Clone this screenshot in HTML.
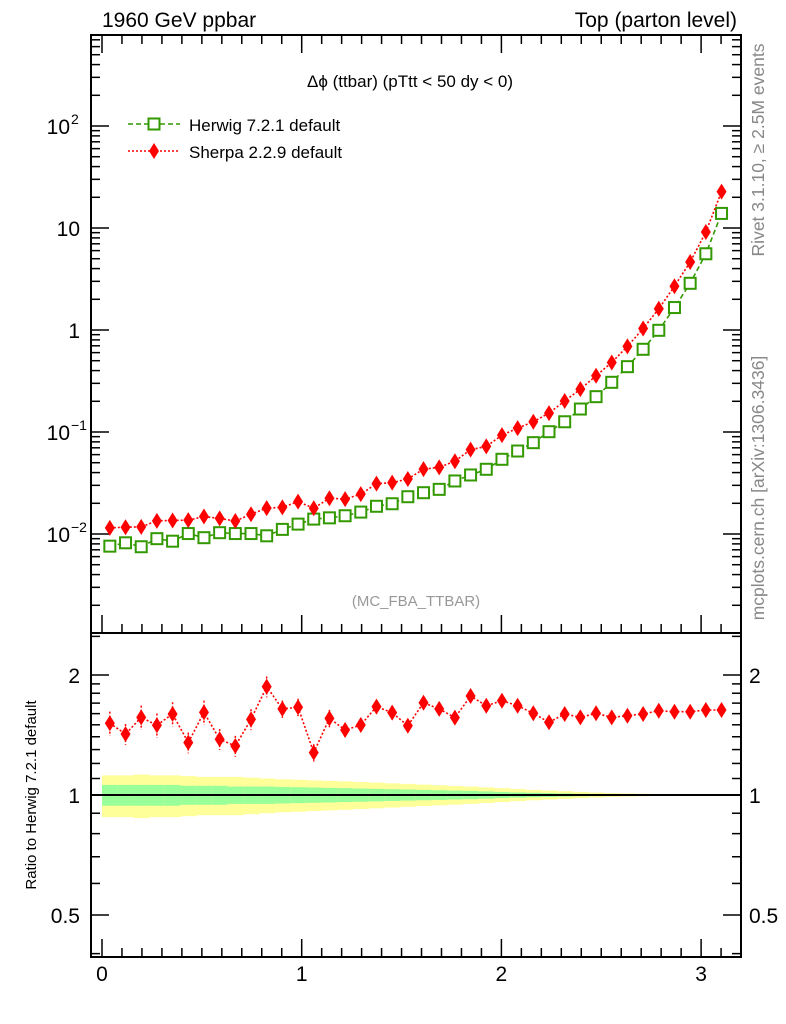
<!DOCTYPE html>
<html><head><meta charset="utf-8"><style>
html,body{margin:0;padding:0;background:#fff;}
svg{display:block;font-family:"Liberation Sans",sans-serif;}
</style></head><body>
<svg id="c" width="786" height="1024" viewBox="0 0 786 1024"></svg>
<script>
const herwig=[0.0076,0.0082,0.0075,0.0090,0.0085,0.0101,0.0092,0.0103,0.0101,0.0101,0.0096,0.0111,0.0125,0.0140,0.0144,0.0151,0.0164,0.0187,0.0198,0.0232,0.0254,0.0274,0.0331,0.0379,0.0431,0.0540,0.0651,0.0786,0.1007,0.126,0.168,0.222,0.307,0.437,0.647,0.993,1.66,2.87,5.59,13.9];
const ratio=[1.513,1.422,1.566,1.496,1.597,1.353,1.612,1.380,1.327,1.548,1.870,1.644,1.660,1.277,1.557,1.456,1.498,1.666,1.609,1.492,1.704,1.644,1.563,1.771,1.675,1.724,1.675,1.603,1.522,1.597,1.566,1.603,1.566,1.581,1.597,1.627,1.618,1.618,1.634,1.634];
const ratioErr=[0.07,0.06,0.07,0.07,0.07,0.06,0.07,0.06,0.06,0.06,0.06,0.05,0.05,0.05,0.05,0.04,0.04,0.04,0.04,0.03,0.03,0.03,0.03,0.03,0.02,0.02,0.02,0.02,0.01,0.01,0.01,0.01,0.01,0.01,0.01,0.01,0.01,0.01,0.01,0.01];
const bandYellow=[0.12,0.12,0.125,0.12,0.12,0.115,0.11,0.11,0.11,0.105,0.10,0.095,0.092,0.088,0.085,0.082,0.078,0.074,0.07,0.066,0.062,0.058,0.054,0.05,0.045,0.04,0.035,0.03,0.026,0.022,0.018,0.014,0.011,0.009,0.007,0.005,0.004,0.003,0.002,0.002];
const bandGreen=[0.06,0.06,0.06,0.06,0.06,0.055,0.055,0.055,0.05,0.05,0.05,0.048,0.046,0.044,0.042,0.04,0.038,0.036,0.034,0.032,0.03,0.028,0.026,0.024,0.021,0.018,0.015,0.013,0.011,0.009,0.007,0.006,0.005,0.004,0.003,0.002,0.002,0.001,0.001,0.001];
const xTicks=[0,1,2,3];
const NB=40, W=Math.PI/NB;
const svg=document.getElementById('c');
const NS='http://www.w3.org/2000/svg';
function el(t,a,p){const e=document.createElementNS(NS,t);for(const k in a)e.setAttribute(k,a[k]);(p||svg).appendChild(e);return e;}
const L=91,R=741,T=35,M=633,B=957;
const X=v=>102+v*199.7;
const Y=v=>534-(Math.log10(v)+2)*102;
const YR=v=>795-Math.log2(v)*120;

const gB=el('g',{});  
for(let i=0;i<NB;i++){
  const x0=X(i*W),x1=X((i+1)*W)+0.5;
  el('rect',{x:x0,y:YR(1+bandYellow[i]),width:x1-x0,height:YR(1-bandYellow[i])-YR(1+bandYellow[i]),fill:'#ffff99'},gB);
  el('rect',{x:x0,y:YR(1+bandGreen[i]),width:x1-x0,height:YR(1-bandGreen[i])-YR(1+bandGreen[i]),fill:'#99ff99'},gB);
}
el('line',{x1:L,x2:R,y1:YR(1),y2:YR(1),stroke:'#000','stroke-width':2});

const f1=el('rect',{x:L,y:T,width:R-L,height:M-T,fill:'none',stroke:'#000','stroke-width':2});
 
const f2=el('rect',{x:L,y:M,width:R-L,height:B-M,fill:'none',stroke:'#000','stroke-width':2});
 

for(let d=-3;d<=2;d++){for(let m=1;m<10;m++){const v=m*Math.pow(10,d);const y=Y(v);if(y<T||y>M)continue;const len=m==1?18:9;
  el('line',{x1:L,x2:L+len,y1:y,y2:y,stroke:'#000','stroke-width':1.5});
  el('line',{x1:R-len,x2:R,y1:y,y2:y,stroke:'#000','stroke-width':1.5});}}
const yl=[[0.01,'10','−2'],[0.1,'10','−1'],[1,'1',''],[10,'10',''],[100,'10','2']];
yl.forEach(a=>{const t=el('text',{x:a[2]?70:80,y:Y(a[0])+8,'font-size':21,'text-anchor':'end'});t.textContent=a[1];
   
  if(a[2]){const s=el('text',{x:71,y:Y(a[0])-2,'font-size':14});s.textContent=a[2];}});
[0.4,0.5,0.6,0.7,0.8,0.9,1,1.1,1.2,1.3,1.4,1.5,1.6,1.7,1.8,1.9,2,2.5].forEach(v=>{const y=YR(v);if(y<M||y>B)return;const len=[0.5,1,2].includes(v)?18:9;
  el('line',{x1:L,x2:L+len,y1:y,y2:y,stroke:'#000','stroke-width':1.5});el('line',{x1:R-len,x2:R,y1:y,y2:y,stroke:'#000','stroke-width':1.5});});
[[2,'2'],[1,'1'],[0.5,'0.5']].forEach(a=>{const t=el('text',{x:80,y:YR(a[0])+8,'font-size':21,'text-anchor':'end'});t.textContent=a[1];
  const t2=el('text',{x:749,y:YR(a[0])+8,'font-size':21});t2.textContent=a[1];});
for(let v=0;v<=3.2;v+=0.1){const x=X(v);if(x<L||x>R)continue;const maj=Math.abs(v-Math.round(v))<1e-6;const len=maj?18:9;
  el('line',{x1:x,x2:x,y1:B-len,y2:B,stroke:'#000','stroke-width':1.5});
  el('line',{x1:x,x2:x,y1:M-len,y2:M,stroke:'#000','stroke-width':1.5});
  el('line',{x1:x,x2:x,y1:T,y2:T+len,stroke:'#000','stroke-width':1.5});}
xTicks.forEach(v=>{const t=el('text',{x:X(v),y:981,'font-size':21,'text-anchor':'middle'});t.textContent=v;
   });

const cx=i=>X((i+0.5)*W);
const gH=el('g',{});  
el('polyline',{points:herwig.map((v,i)=>cx(i)+','+Y(v)).join(' '),fill:'none',stroke:'#339900','stroke-width':1.6,'stroke-dasharray':'5,3'},gH);
herwig.forEach((v,i)=>{el('rect',{x:cx(i)-5.5,y:Y(v)-5.5,width:11,height:11,fill:'#fff',stroke:'#339900','stroke-width':2},gH);});
const gS=el('g',{});  
const sh=herwig.map((v,i)=>v*ratio[i]);
el('polyline',{points:sh.map((v,i)=>cx(i)+','+Y(v)).join(' '),fill:'none',stroke:'#ff0000','stroke-width':1.6,'stroke-dasharray':'2,2'},gS);
const dia=(x,y,g)=>el('polygon',{points:`${x},${y-8} ${x+5},${y} ${x},${y+8} ${x-5},${y}`,fill:'#ff0000'},g);
sh.forEach((v,i)=>dia(cx(i),Y(v),gS));
const gR=el('g',{});  
el('polyline',{points:ratio.map((v,i)=>cx(i)+','+YR(v)).join(' '),fill:'none',stroke:'#ff0000','stroke-width':1.6,'stroke-dasharray':'2,2'},gR);
ratio.forEach((v,i)=>{el('line',{x1:cx(i),x2:cx(i),y1:YR(v*(1+ratioErr[i])),y2:YR(v*(1-ratioErr[i])),stroke:'#ff0000','stroke-width':1.5,'stroke-dasharray':'2,2'},gR);dia(cx(i),YR(v),gR);});

function txt(s,a,name){const t=el('text',a);t.textContent=s;return t;}
txt('1960 GeV ppbar',{x:102,y:27,'font-size':21},'energy-label');
txt('Top (parton level)',{x:737,y:27,'font-size':21,'text-anchor':'end'},'process-label');
txt('Δϕ (ttbar) (pTtt < 50 dy < 0)',{x:410,y:87,'font-size':17,'text-anchor':'middle'},'plot-title');
txt('(MC_FBA_TTBAR)',{x:416,y:606,'font-size':15,'text-anchor':'middle',fill:'#999'},'analysis-label');
const lg=el('g',{});
el('line',{x1:128,x2:180,y1:124,y2:124,stroke:'#339900','stroke-width':1.6,'stroke-dasharray':'5,3'},lg);
el('rect',{x:148.5,y:118.5,width:11,height:11,fill:'#fff',stroke:'#339900','stroke-width':2},lg);
txt('Herwig 7.2.1 default',{x:189,y:131,'font-size':17},'legend-entry-herwig');
el('line',{x1:128,x2:180,y1:151,y2:151,stroke:'#ff0000','stroke-width':1.6,'stroke-dasharray':'2,2'},lg);
dia(154,151,lg);
txt('Sherpa 2.2.9 default',{x:189,y:158,'font-size':17},'legend-entry-sherpa');
txt('Rivet 3.1.10, ≥ 2.5M events',{x:0,y:0,'font-size':17.5,fill:'#888','text-anchor':'middle',transform:'translate(764,150) rotate(-90)'},'rivet-label');
txt('mcplots.cern.ch [arXiv:1306.3436]',{x:0,y:0,'font-size':17.5,fill:'#888','text-anchor':'middle',transform:'translate(764,488) rotate(-90)'},'mcplots-label');
txt('Ratio to Herwig 7.2.1 default',{x:0,y:0,'font-size':15,'text-anchor':'middle',transform:'translate(36,795) rotate(-90)'},'ratio-y-axis-title');
</script>
</body></html>
